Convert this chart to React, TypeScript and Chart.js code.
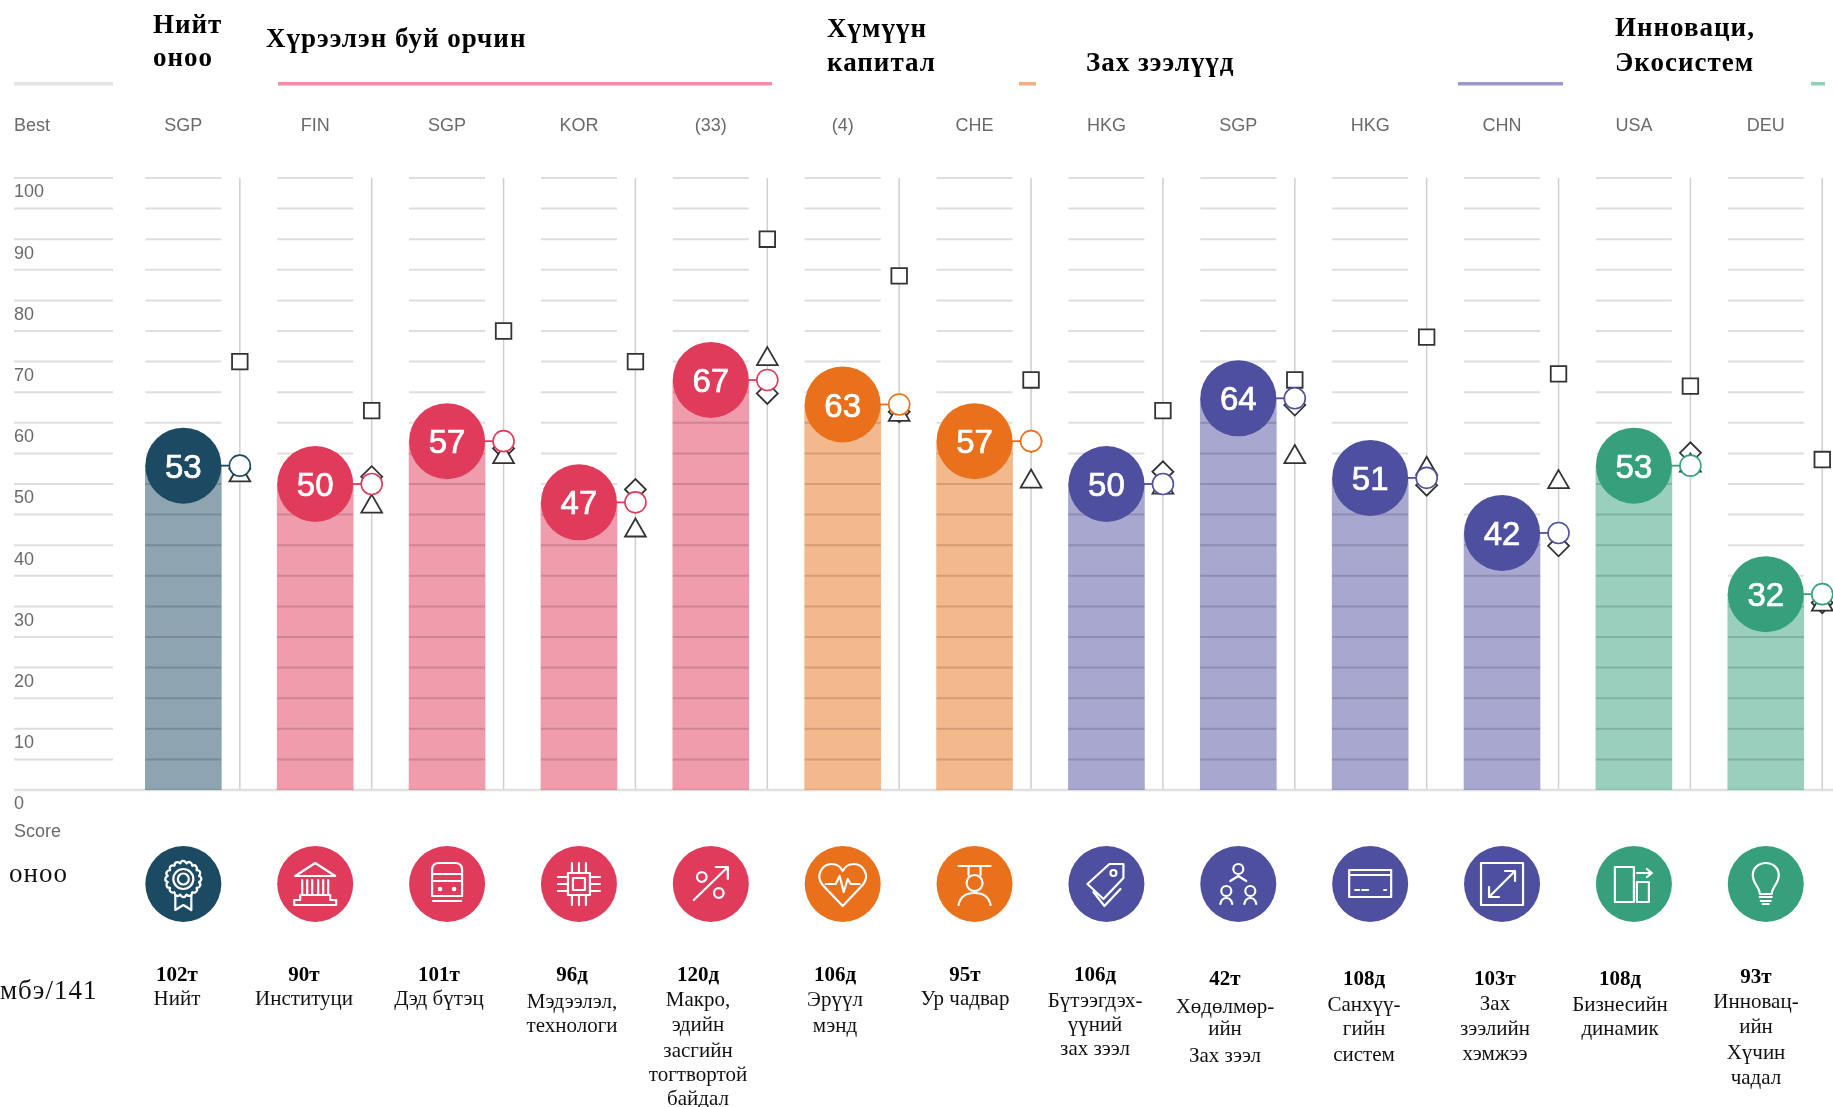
import React, { useEffect, useRef } from "react";
import { Chart, registerables } from "chart.js";

Chart.register(...registerables);

// ---------- data ----------
const bestCodes = ["SGP", "FIN", "SGP", "KOR", "(33)", "(4)", "CHE", "HKG", "SGP", "HKG", "CHN", "USA", "DEU"];
const scores = [53, 50, 57, 47, 67, 63, 57, 50, 64, 51, 42, 53, 32];
const hollowCircle = [53, 50, 57, 47, 67, 63, 57, 50, 64, 51, 42, 53, 32];
const squares = [70, 62, 75, 70, 90, 84, 67, 62, 67, 74, 68, 66, 54];
const triangles = [51.4, 46.3, 54.4, 42.4, 70.4, 61.3, 50.4, 49.4, 54.4, 52.5, 50.3, 53, 30.3];
const diamonds = [52.5, 51.2, 55.8, 49.1, 64.8, 61.8, 57, 52, 62.9, 49.8, 39.9, 55.1, 30.6];
const groupOfColumn = [0, 1, 1, 1, 1, 2, 2, 3, 3, 3, 3, 4, 4];
const ranks = ["102т", "90т", "101т", "96д", "120д", "106д", "95т", "106д", "42т", "108д", "103т", "108д", "93т"];
const pillarNames = [
  ["Нийт"],
  ["Институци"],
  ["Дэд бүтэц"],
  ["Мэдээлэл,", "технологи"],
  ["Макро,", "эдийн", "засгийн", "тогтвортой", "байдал"],
  ["Эрүүл", "мэнд"],
  ["Ур чадвар"],
  ["Бүтээгдэх-", "үүний", "зах зээл"],
  ["Хөдөлмөр-", "ийн", "Зах зээл"],
  ["Санхүү-", "гийн", "систем"],
  ["Зах", "зээлийн", "хэмжээ"],
  ["Бизнесийн", "динамик"],
  ["Инновац-", "ийн", "Хүчин", "чадал"],
];

// ---------- styles and layout ----------
const solid = ["#1d4a63", "#e03b5b", "#ea711c", "#4f4f9f", "#35a07b"];
const tint = ["rgba(29,74,99,.5)", "rgba(224,59,91,.5)", "rgba(234,113,28,.5)", "rgba(79,79,159,.5)", "rgba(53,160,123,.5)"];
const columnSolid = groupOfColumn.map((g) => solid[g]);
const columnTint = groupOfColumn.map((g) => tint[g]);
const serif = '"Liberation Serif"';
const sans = '"Liberation Sans"';
const COL = 131.87;
const PLOT_LEFT = 117.4;
const PLOT_TOP = 178;
const PLOT_BOTTOM = 790;
const BAR = 76;
const MARK_OFFSET = 56.5;
const rankX = [177, 304, 439, 572, 698, 835, 965, 1095, 1225, 1364, 1495, 1620, 1756];
const rankY = [976, 976, 976, 976, 976, 976, 976, 976, 980, 980, 980, 980, 978];
const nameY = [
  [999], [999], [999], [1002, 1026], [1000, 1025, 1051, 1075, 1099], [1000, 1026], [999],
  [1001, 1025, 1049], [1007, 1029, 1056], [1005, 1029, 1055], [1004, 1029, 1054], [1005, 1029], [1002, 1027, 1053, 1078],
];
const headings = [
  { t: "Нийт", x: 153, y: 26 }, { t: "оноо", x: 153, y: 59 },
  { t: "Хүрээлэн буй орчин", x: 266, y: 40 },
  { t: "Хүмүүн", x: 827, y: 30 }, { t: "капитал", x: 827, y: 64 },
  { t: "Зах зээлүүд", x: 1086, y: 64 },
  { t: "Инноваци,", x: 1615, y: 29 }, { t: "Экосистем", x: 1615, y: 64 },
];
const rules = [
  { c: "#e4e4e4", a: 14, b: 113 }, { c: "#ef8fa3", a: 278, b: 772 }, { c: "#f3ae7f", a: 1019, b: 1036 },
  { c: "#9d98cb", a: 1458, b: 1563 }, { c: "#8fd0b6", a: 1811, b: 1825 },
];

const iconPaths: string[] = [
  "M-8 11 V26 L0 21 L8 26 V11",
  "M-20 -8 L0 -21 L20 -8 Z M-13 -4 V10 M-8 -4 V10 M-3 -4 V10 M3 -4 V10 M8 -4 V10 M13 -4 V10 M-15 11 H15 V16 H21 V21 H-21 V16 H-15 Z",
  "M-15 -14 Q-15 -21 -8 -21 H8 Q15 -21 15 -14 V12 H-15 Z M-15 -10 H15 M-15 -3 H15 M-14 17 H14",
  "M-11 -11 H11 V11 H-11 Z M-6 -6 H6 V6 H-6 Z M-7 -11 V-21 M0 -11 V-21 M7 -11 V-21 M-7 11 V21 M0 11 V21 M7 11 V21 M-11 -7 H-21 M-11 0 H-21 M-11 7 H-21 M11 -7 H21 M11 0 H21 M11 7 H21",
  "M-17 16 L17 -17 M5 -17 H17 V-5",
  "M0 22 L-20 1 C-28 -9 -20 -20 -11 -20 C-6 -20 -2 -17 0 -13 C2 -17 6 -20 11 -20 C20 -20 28 -9 20 1 Z M-17 0 H-7 L-3 -8 L1 8 L5 -5 L8 0 H17",
  "M-16 -18 H16 M-6 -18 V-9 M6 -18 V-9 M-16 21 C-14 11 -6 9 0 9 C6 9 14 11 16 21",
  "M-19 0 L3 -20 H17 V-6 L-3 15 Z M-13 8 L-2 22 L14 5",
  "M-8 -3 L0 -8 L8 -3 M-18 20 C-17 15 -14 14 -12 14 C-10 14 -7 15 -6 20 M6 20 C7 15 10 14 12 14 C14 14 17 15 18 20",
  "M-21 -14 H21 V13 H-21 Z M-21 -9 H21 M-15 6 H-11 M-8 6 H-2 M14 6 H16",
  "M-21 -21 H21 V21 H-21 Z M-13 13 L13 -13 M3 -13 H13 V-3 M-13 3 V13 H-3",
  "M-19 -17 H0 V18 H-19 Z M3 -2 H15 V18 H3 Z M3 -11 H18 M13 -15 L18 -11 L13 -7",
  "M-6 10 C-6 3 -13 0 -13 -9 C-13 -16 -7 -21 0 -21 C7 -21 13 -16 13 -9 C13 0 6 3 6 10 Z M-6 13 H6 M-5 17 H5 M-3 20 H3",
];
const iconCircles: number[][][] = [
  [[0, -5, 10], [0, -5, 5.5]],
  [],
  [[-7, 5, 1.2], [7, 5, 1.2]],
  [],
  [[-9, -7, 4.8], [8, 9, 4.8]],
  [],
  [[0, -1, 8]],
  [[7, -11, 3]],
  [[0, -15, 5], [-12, 7, 5], [12, 7, 5]],
  [],
  [],
  [],
  [],
];

function text(ctx: CanvasRenderingContext2D, s: string, x: number, y: number, font: string, color: string, align: CanvasTextAlign = "left", spacing = "0px") {
  ctx.font = font;
  ctx.fillStyle = color;
  ctx.textAlign = align;
  ctx.textBaseline = "middle";
  (ctx as any).letterSpacing = spacing;
  ctx.fillText(s, x, y);
  (ctx as any).letterSpacing = "0px";
}

const pagePlugin = {
  id: "pagePlugin",
  beforeDatasetsDraw(chart: any) {
    const { ctx, scales } = chart;
    const y = scales.y;
    const x = scales.x;
    ctx.save();
    // segmented horizontal grid
    ctx.strokeStyle = "#dedede";
    ctx.lineWidth = 2;
    y.ticks.forEach((t: any) => {
      if (t.value === 0) return;
      const py = y.getPixelForValue(t.value);
      ctx.beginPath();
      ctx.moveTo(14, py);
      ctx.lineTo(113, py);
      scores.forEach((_, i) => {
        const c = x.getPixelForValue(i);
        ctx.moveTo(c - BAR / 2, py);
        ctx.lineTo(c + BAR / 2, py);
      });
      ctx.stroke();
    });
    // vertical range lines
    ctx.strokeStyle = "#cfcfcf";
    ctx.lineWidth = 1.5;
    scores.forEach((_, i) => {
      const c = x.getPixelForValue(i) + MARK_OFFSET;
      ctx.beginPath();
      ctx.moveTo(c, y.getPixelForValue(100));
      ctx.lineTo(c, y.getPixelForValue(0));
      ctx.stroke();
    });
    // baseline
    ctx.strokeStyle = "#e0e0e0";
    ctx.lineWidth = 2.5;
    ctx.beginPath();
    ctx.moveTo(14, y.getPixelForValue(0));
    ctx.lineTo(1833, y.getPixelForValue(0));
    ctx.stroke();
    // connectors
    ctx.lineWidth = 1.8;
    scores.forEach((v, i) => {
      const c = x.getPixelForValue(i);
      const py = y.getPixelForValue(v);
      ctx.strokeStyle = columnSolid[i];
      ctx.beginPath();
      ctx.moveTo(c + BAR / 2 - 2, py);
      ctx.lineTo(c + MARK_OFFSET, py);
      ctx.stroke();
    });
    ctx.restore();
  },
  afterDatasetDraw(chart: any, args: any) {
    if (args.index !== 0) return;
    const { ctx, scales } = chart;
    const y = scales.y;
    const x = scales.x;
    ctx.save();
    ctx.strokeStyle = "rgba(60,40,70,.09)";
    ctx.lineWidth = 2;
    y.ticks.forEach((t: any) => {
      if (t.value === 0) return;
      scores.forEach((v, i) => {
        if (t.value > v) return;
        const c = x.getPixelForValue(i);
        const py = y.getPixelForValue(t.value);
        ctx.beginPath();
        ctx.moveTo(c - BAR / 2, py);
        ctx.lineTo(c + BAR / 2, py);
        ctx.stroke();
      });
    });
    ctx.restore();
  },
  afterDatasetsDraw(chart: any) {
    const { ctx, scales } = chart;
    ctx.save();
    scores.forEach((v, i) => {
      const cx = scales.x.getPixelForValue(i);
      const cy = scales.y.getPixelForValue(v) + 3;
      text(ctx, String(v), cx, cy, `33px ${sans}`, "#ffffff", "center");
      ctx.strokeStyle = "#ffffff";
      ctx.lineWidth = 0.7;
      ctx.strokeText(String(v), cx, cy);
    });
    ctx.restore();
  },
  afterDraw(chart: any) {
    const { ctx, scales } = chart;
    ctx.save();
    // headings and group rules
    headings.forEach((h) => text(ctx, h.t, h.x, h.y, `bold 27px ${serif}`, "#000", "left", "1px"));
    rules.forEach((r) => {
      ctx.fillStyle = r.c;
      ctx.fillRect(r.a, 82, r.b - r.a, 3.5);
    });
    text(ctx, "Best", 14, 126, `18px ${sans}`, "#6a6a6a");
    text(ctx, "Score", 14, 832, `18px ${sans}`, "#6a6a6a");
    text(ctx, "оноо", 9, 875, `27px ${serif}`, "#111", "left", "1px");
    text(ctx, "мбэ/141", 0, 992, `27px ${serif}`, "#111", "left", "1px");
    // pillar icons
    scores.forEach((_, i) => {
      const c = scales.x.getPixelForValue(i);
      const cy = 884;
      ctx.fillStyle = columnSolid[i];
      ctx.beginPath();
      ctx.arc(c, cy, 38, 0, Math.PI * 2);
      ctx.fill();
      ctx.save();
      ctx.translate(c, cy);
      ctx.strokeStyle = "#fff";
      ctx.lineWidth = 2.2;
      ctx.lineCap = "round";
      ctx.lineJoin = "round";
      ctx.stroke(new Path2D(iconPaths[i]));
      iconCircles[i].forEach(([a, b, r]) => {
        ctx.beginPath();
        ctx.arc(a, b, r, 0, Math.PI * 2);
        ctx.stroke();
      });
      if (i === 0) {
        for (let k = 0; k < 16; k++) {
          const ang = (k / 16) * Math.PI * 2;
          ctx.beginPath();
          ctx.arc(Math.cos(ang) * 15, -5 + Math.sin(ang) * 15, 3, ang - 1.3, ang + 1.3);
          ctx.stroke();
        }
      }
      ctx.restore();
    });
    // rank and pillar captions
    ranks.forEach((r, i) => {
      text(ctx, r, rankX[i], rankY[i], `bold 21px ${serif}`, "#000", "center");
      pillarNames[i].forEach((line, j) => text(ctx, line, rankX[i], nameY[i][j], `21px ${serif}`, "#111", "center"));
    });
    ctx.restore();
  },
};

export default function App() {
  const ref = useRef<HTMLCanvasElement>(null);
  useEffect(() => {
    const indices = scores.map((_, i) => i);
    const onMarkAxis = (vals: number[]) => vals.map((v, i) => ({ x: indices[i], y: v }));
    const markMin = -0.5 - MARK_OFFSET / COL;
    const markDs = (label: string, vals: number[], style: string, radius: number, order: number, stroke: any, width: number) => ({
      type: "scatter" as const,
      label,
      data: onMarkAxis(vals),
      xAxisID: "xm",
      yAxisID: "y",
      pointStyle: style,
      pointRadius: radius,
      pointBackgroundColor: "#ffffff",
      pointBorderColor: stroke,
      pointBorderWidth: width,
      order,
      clip: false,
    });
    const chart = new Chart(ref.current!, {
      data: {
        labels: bestCodes,
        datasets: [
          { type: "bar", label: "Score", data: scores, backgroundColor: columnTint, barThickness: BAR, grouped: false, order: 9, xAxisID: "x", yAxisID: "y" },
          markDs("Top", squares, "rect", 11, 8, "#333", 1.8),
          markDs("Income", diamonds, "rectRot", 10.5, 7, "#333", 1.8),
          markDs("Region", triangles, "triangle", 12, 6, "#333", 1.8),
          markDs("Average", hollowCircle, "circle", 10.5, 5, columnSolid, 1.6),
          {
            type: "line",
            label: "Bubble",
            data: scores,
            showLine: false,
            pointRadius: 38,
            pointBackgroundColor: columnSolid,
            pointBorderWidth: 0,
            order: 1,
            xAxisID: "x",
            yAxisID: "y",
            clip: false,
          },
        ] as any,
      },
      options: {
        responsive: false,
        animation: false,
        layout: { autoPadding: false, padding: { left: 14, right: 1833 - (PLOT_LEFT + 13 * COL), top: 0, bottom: 1107 - PLOT_BOTTOM } },
        plugins: { legend: { display: false }, tooltip: { enabled: false } },
        scales: {
          x: {
            position: "top",
            offset: true,
            grid: { display: false, drawTicks: false },
            border: { display: false },
            afterFit: (s: any) => {
              s.height = PLOT_TOP;
              s.paddingLeft = 0;
              s.paddingRight = 0;
            },
            ticks: { autoSkip: false, maxRotation: 0, padding: 41, color: "#6a6a6a", font: { family: "Liberation Sans", size: 18 } },
          },
          xm: { type: "linear", display: false, position: "top", bounds: "data", min: markMin, max: markMin + 13 },
          y: {
            min: 0,
            max: 100,
            position: "left",
            grid: { display: false, drawTicks: false },
            border: { display: false },
            afterFit: (s: any) => {
              s.width = PLOT_LEFT - 14;
            },
            ticks: {
              stepSize: 5,
              autoSkip: false,
              crossAlign: "far",
              color: "#6a6a6a",
              font: { family: "Liberation Sans", size: 18, lineHeight: 29 / 18 },
              callback: (v: any) => (Number(v) % 10 === 0 ? ["", String(v)] : ""),
            },
          },
        } as any,
      },
      plugins: [pagePlugin],
    } as any);
    return () => chart.destroy();
  }, []);
  return <canvas ref={ref} width={1833} height={1107} style={{ position: "absolute", left: 0, top: 0, display: "block" }} />;
}
